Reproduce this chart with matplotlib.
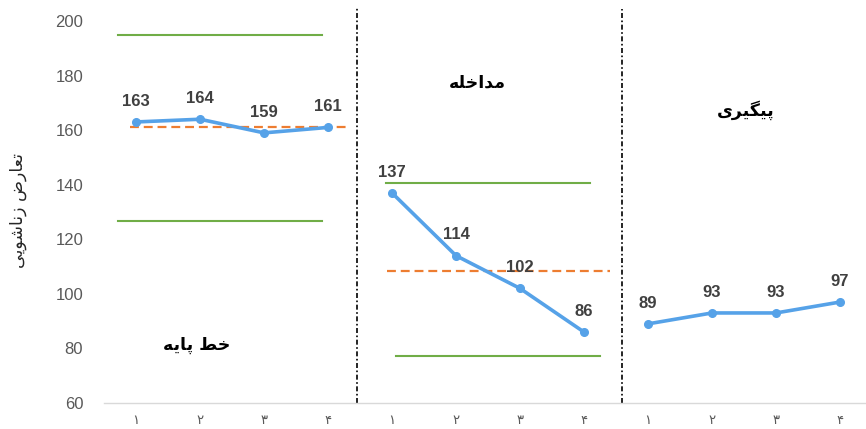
import matplotlib
matplotlib.use("Agg")
import matplotlib.pyplot as plt
import matplotlib.transforms as mtransforms

# ---- data ----
tick_labels = ["۱", "۲", "۳", "۴"] * 3
baseline = [163, 164, 159, 161]
intervention = [137, 114, 102, 86]
followup = [89, 93, 93, 97]
upper_limits = [195, 140.8]
lower_limits = [126.8, 77.3]
mean_levels = [161, 108.5]

# Persian text in visual order (Arabic presentation forms, shaped for display)
phase_labels = [
    "\uFEEA\uFBFE\uFE8E\uFB58 \uFEC2\uFEA7",          # خط پایه
    "\uFEEA\uFEE0\uFEA7\uFE8D\uFEAA\uFEE3",            # مداخله
    "\uFBFC\uFEAE\uFBFF\uFB95\uFBFF\uFB58",            # پیگیری
]
y_label = "\uFBFD\uFBFE\uFEEE\uFEB7\uFE8E\uFEE7\uFEAF \uFEBD\uFEAD\uFE8E\uFECC\uFE97"  # تعارض زناشویی

BLUE = "#56A2E8"
GREEN = "#70AD47"
ORANGE = "#ED7D31"
GRAY = "#595959"

fig = plt.figure(figsize=(8.66, 4.29), dpi=100)
ax = fig.add_axes([104 / 866, 26 / 429, 762 / 866, (403 - 21) / 429])

phases = [baseline, intervention, followup]
for p, vals in enumerate(phases):
    xs = [p * 4 + i for i in range(len(vals))]
    ax.plot(xs, vals, color=BLUE, lw=2.6, marker="o", ms=5.5, zorder=3,
            solid_capstyle="round")
    for x, v in zip(xs, vals):
        ax.annotate(str(v), (x, v), xytext=(0, 15), textcoords="offset points",
                    ha="center", va="center", fontsize=12, fontweight="bold",
                    color="#404040", family="Liberation Sans", zorder=4)

# control lines (upper / lower) and mean lines
green_extents = [[(-0.28, 2.91), (-0.28, 2.91)], [(3.91, 7.09), (4.06, 7.25)]]
mean_extents = [(-0.09, 3.31), (3.92, 7.41)]
for p in range(2):
    (u0, u1), (l0, l1) = green_extents[p]
    ax.plot([u0, u1], [upper_limits[p]] * 2, color=GREEN, lw=1.5, zorder=2)
    ax.plot([l0, l1], [lower_limits[p]] * 2, color=GREEN, lw=1.5, zorder=2)
    m0, m1 = mean_extents[p]
    ax.plot([m0, m1], [mean_levels[p]] * 2, color=ORANGE, lw=1.6,
            linestyle=(0, (4, 2.2)), zorder=2)

# phase separators
trans = mtransforms.blended_transform_factory(ax.transData, fig.transFigure)
for xsep, ytop in [(3.45, 1 - 7 / 429), (7.59, 1 - 9 / 429)]:
    ax.plot([xsep, xsep], [26 / 429, ytop], transform=trans, color="black",
            lw=1.2, linestyle=(0, (3, 1.5, 1, 1.5)), clip_on=False, zorder=1)

# phase labels
label_pos = [(0.95, 81.3), (5.34, 177.3), (9.52, 167.4)]
for txt, (lx, ly) in zip(phase_labels, label_pos):
    ax.text(lx, ly, txt, ha="center", va="center", fontsize=12.5,
            fontweight="bold", color="black", family="DejaVu Sans")

ax.set_xlim(-0.5, -0.5 + 762 / 64)
ax.set_ylim(60, 200)
ax.set_yticks(range(60, 201, 20))
ax.set_xticks(range(12))
ax.set_xticklabels(tick_labels, family="DejaVu Sans", fontsize=9.5, color=GRAY)
for lab in ax.get_yticklabels():
    lab.set_family("Liberation Sans")
    lab.set_fontsize(12)
    lab.set_color(GRAY)
ax.tick_params(axis="y", length=0, pad=15)
ax.tick_params(axis="x", length=0, pad=8)
for s in ["top", "right", "left"]:
    ax.spines[s].set_visible(False)
ax.spines["bottom"].set_color("#D9D9D9")
ax.spines["bottom"].set_linewidth(1)

fig.text(18 / 866, 1 - 210 / 429, y_label, rotation=90, ha="center", va="center",
         fontsize=12.5, color="#262626", family="DejaVu Sans")

fig.savefig("out.png", dpi=100)
